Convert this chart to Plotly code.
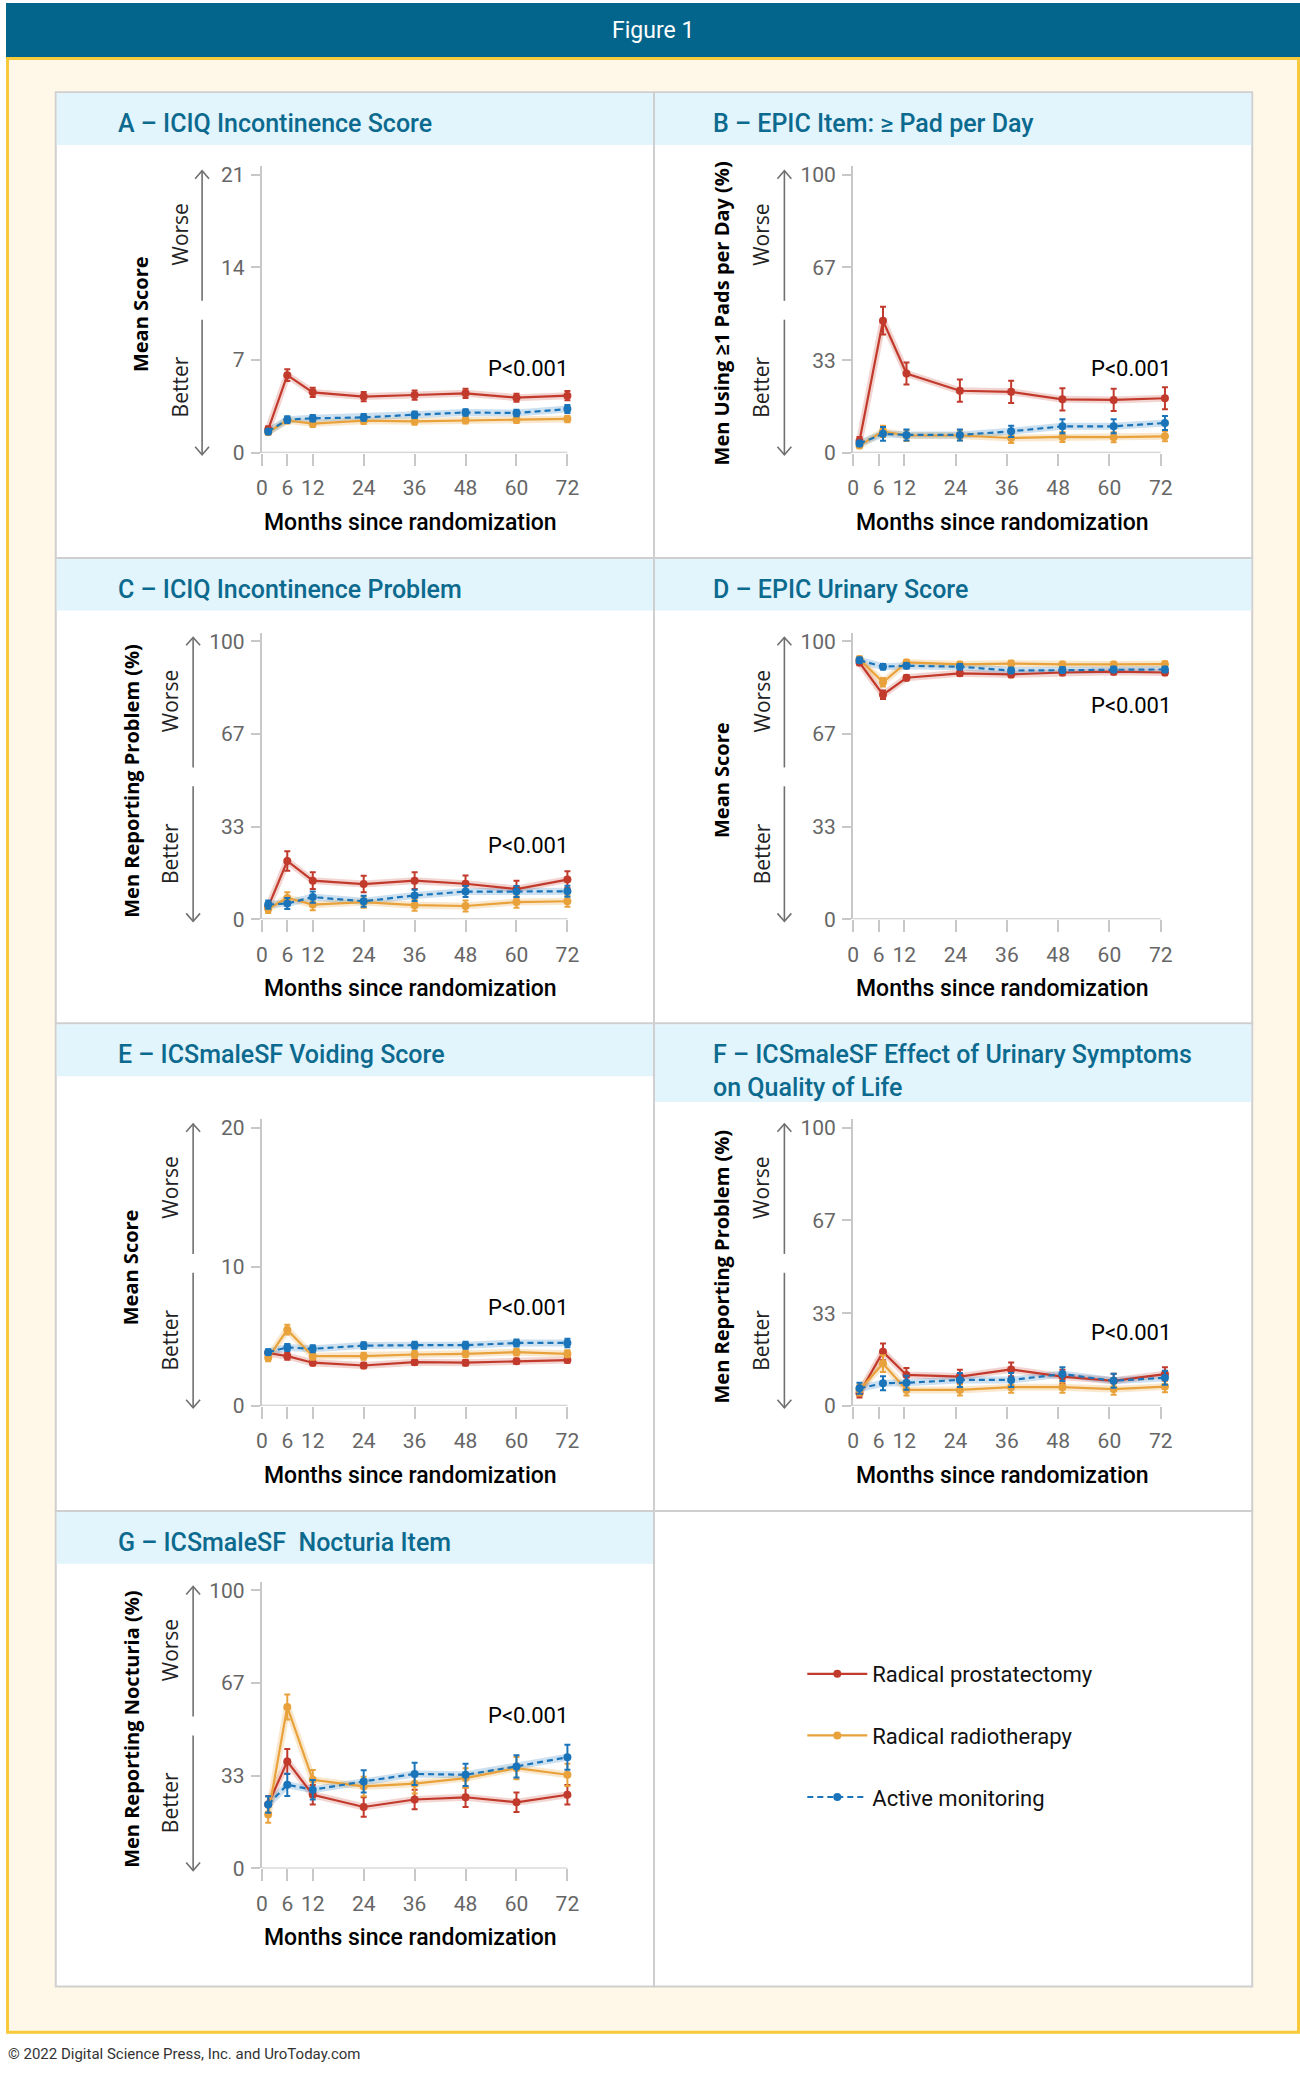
import plotly.graph_objects as go

# canvas size in px (margins are zero, so paper coords map straight to pixels)
W, H = 1300, 2078

# ---- data ----
months_left = [1.5, 6, 12, 24, 36, 48, 60, 72]
months_right = [1.5, 7, 12.5, 25, 37, 49, 61, 73]
month_ticks = [0, 6, 12, 24, 36, 48, 60, 72]

series_names = ["Radical prostatectomy", "Radical radiotherapy", "Active monitoring"]

# A - ICIQ incontinence score
a_rp = [1.75, 5.86, 4.56, 4.24, 4.36, 4.49, 4.16, 4.31]
a_rp_err = [0.25, 0.45, 0.35, 0.35, 0.35, 0.35, 0.3, 0.35]
a_rr = [1.55, 2.45, 2.2, 2.42, 2.37, 2.45, 2.5, 2.55]
a_rr_err = [0.2, 0.25, 0.25, 0.25, 0.25, 0.25, 0.25, 0.25]
a_am = [1.6, 2.5, 2.6, 2.67, 2.87, 3.04, 3.0, 3.3]
a_am_err = [0.2, 0.25, 0.25, 0.25, 0.25, 0.25, 0.25, 0.3]

# B - EPIC item: >= 1 pad per day
b_rp = [4.2, 47.5, 28.5, 22.3, 21.9, 19.2, 19.0, 19.6]
b_rp_err = [1.5, 5, 4, 4, 4, 4, 4, 4]
b_rr = [2.6, 7.7, 6.2, 6.2, 5.3, 5.7, 5.6, 5.9]
b_rr_err = [1, 2, 2, 1.8, 1.8, 1.8, 1.8, 1.8]
b_am = [3.3, 6.8, 6.4, 6.4, 7.7, 9.5, 9.5, 10.7]
b_am_err = [1, 2.5, 2, 2, 2, 2.5, 2.5, 2.5]

# C - ICIQ incontinence problem
c_rp = [4.5, 21, 13.9, 12.7, 13.9, 12.8, 10.9, 14.3]
c_rp_err = [1.5, 3.5, 3, 3, 3, 3, 3, 3]
c_rr = [3.8, 7.7, 5.3, 6.2, 5.1, 4.8, 6.2, 6.5]
c_rr_err = [1.5, 2, 2, 2, 2, 2, 2, 2]
c_am = [5.3, 5.7, 8, 6.5, 8.6, 10, 10, 10.1]
c_am_err = [1.5, 2, 2, 2, 2, 2, 2, 2]

# D - EPIC urinary score
d_rp = [92.4, 80.8, 86.9, 88.5, 88.1, 88.8, 89.1, 88.8]
d_rp_err = [1, 1.5, 1, 1, 1, 1, 1, 1]
d_rr = [93.6, 85.3, 92.4, 91.7, 92, 91.7, 91.7, 91.8]
d_rr_err = [1, 1.5, 1, 1, 1, 1, 1, 1]
d_am = [93.2, 90.9, 91.2, 90.9, 89.5, 89.7, 89.9, 89.9]
d_am_err = [1, 1, 1, 1, 1, 1, 1, 1]

# E - ICSmaleSF voiding score
e_rp = [3.8, 3.57, 3.1, 2.9, 3.14, 3.1, 3.2, 3.29]
e_rp_err = [0.2, 0.25, 0.2, 0.2, 0.2, 0.2, 0.2, 0.2]
e_rr = [3.45, 5.48, 3.57, 3.57, 3.69, 3.74, 3.86, 3.74]
e_rr_err = [0.25, 0.35, 0.25, 0.25, 0.25, 0.25, 0.25, 0.25]
e_am = [3.86, 4.2, 4.1, 4.33, 4.36, 4.36, 4.52, 4.52]
e_am_err = [0.2, 0.25, 0.25, 0.25, 0.25, 0.25, 0.25, 0.3]

# F - ICSmaleSF effect of urinary symptoms on QoL
f_rp = [4.5, 19.4, 11.1, 10.5, 13.1, 10.5, 9, 11.4]
f_rp_err = [1.5, 3, 2.5, 2.5, 2.5, 2.5, 2.5, 2.5]
f_rr = [5.7, 15.2, 5.7, 5.7, 6.7, 6.7, 6, 6.9]
f_rr_err = [2, 3, 2, 2, 2, 2, 2, 2]
f_am = [6.3, 8.1, 8.3, 9.3, 9.3, 11.4, 9, 10.1]
f_am_err = [2, 2.5, 2.5, 2.5, 2.5, 2.5, 2.5, 2.5]

# G - ICSmaleSF nocturia item
g_rp = [23, 38.5, 26.5, 22.1, 24.8, 25.6, 23.8, 26.5]
g_rp_err = [3, 4.5, 3.5, 3.5, 3.5, 3.5, 3.5, 3.5]
g_rr = [19.4, 58.1, 31.9, 29.5, 30.5, 32.5, 36.1, 33.7]
g_rr_err = [3, 4.5, 3.5, 3.5, 3.5, 3.5, 4, 4]
g_am = [23, 30.1, 28.3, 31.3, 34, 33.7, 36.7, 40]
g_am_err = [3, 4, 3.5, 4, 4, 4, 4, 4.5]

pct_ticks = [0, 33.3, 66.7, 100]
pct_labels = ["0", "33", "67", "100"]

# ---- styling ----
RED, ORANGE, BLUE = "#C23A2C", "#E9A23B", "#1A74BA"
HALO = ["rgba(194,58,44,0.22)", "rgba(233,162,59,0.25)", "rgba(26,116,186,0.22)"]
COLORS = [RED, ORANGE, BLUE]
DASHES = ["solid", "solid", "6px,4px"]
AXIS_GREY = "#C8C8C8"
TITLE_BLUE = "#0B6A8E"
COND = "Roboto"
WIDE = "Open Sans"


def fx(px):
    return px / W


def fy(py):
    return 1 - py / H


# panel grid (px)
PX_L, PX_M, PX_R = 50, 651, 1252
ROWS = [90, 559, 1028, 1519, 1998]

panels = [
    dict(title="A – ICIQ Incontinence Score", col=0, row=0, x=months_left,
         ys=[a_rp, a_rr, a_am], errs=[a_rp_err, a_rr_err, a_am_err],
         top=21, tickvals=[0, 7, 14, 21], ticktext=["0", "7", "14", "21"],
         ytitle="Mean Score", p_xy=(72.5, 6.4), arrow_dx=-60, wb_dx=-82, yt_dx=-122, band=53),
    dict(title="B – EPIC Item: ≥ Pad per Day", col=1, row=0, x=months_right,
         ys=[b_rp, b_rr, b_am], errs=[b_rp_err, b_rr_err, b_am_err],
         top=100, tickvals=pct_ticks, ticktext=pct_labels,
         ytitle="Men Using ≥1 Pads per Day (%)", p_xy=(75, 30.4), arrow_dx=-69, wb_dx=-92, yt_dx=-132, band=53),
    dict(title="C – ICIQ Incontinence Problem", col=0, row=1, x=months_left,
         ys=[c_rp, c_rr, c_am], errs=[c_rp_err, c_rr_err, c_am_err],
         top=100, tickvals=pct_ticks, ticktext=pct_labels,
         ytitle="Men Reporting Problem (%)", p_xy=(72.5, 26.4), arrow_dx=-69, wb_dx=-92, yt_dx=-131, band=53),
    dict(title="D – EPIC Urinary Score", col=1, row=1, x=months_right,
         ys=[d_rp, d_rr, d_am], errs=[d_rp_err, d_rr_err, d_am_err],
         top=100, tickvals=pct_ticks, ticktext=pct_labels,
         ytitle="Mean Score", p_xy=(75, 77), arrow_dx=-69, wb_dx=-92, yt_dx=-132, band=53),
    dict(title="E – ICSmaleSF Voiding Score", col=0, row=2, x=months_left,
         ys=[e_rp, e_rr, e_am], errs=[e_rp_err, e_rr_err, e_am_err],
         top=20, tickvals=[0, 10, 20], ticktext=["0", "10", "20"],
         ytitle="Mean Score", p_xy=(72.5, 7.1), arrow_dx=-69, wb_dx=-92, yt_dx=-132, band=53),
    dict(title="F – ICSmaleSF Effect of Urinary Symptoms<br>on Quality of Life", col=1, row=2, x=months_right,
         ys=[f_rp, f_rr, f_am], errs=[f_rp_err, f_rr_err, f_am_err],
         top=100, tickvals=pct_ticks, ticktext=pct_labels,
         ytitle="Men Reporting Problem (%)", p_xy=(75, 26.4), arrow_dx=-69, wb_dx=-92, yt_dx=-132, band=79),
    dict(title="G – ICSmaleSF  Nocturia Item", col=0, row=3, x=months_left,
         ys=[g_rp, g_rr, g_am], errs=[g_rp_err, g_rr_err, g_am_err],
         top=100, tickvals=pct_ticks, ticktext=pct_labels,
         ytitle="Men Reporting Nocturia (%)", p_xy=(72.5, 55), arrow_dx=-69, wb_dx=-92, yt_dx=-131, band=53),
]

# plot geometry (px): x position of month 0, px per month; y position of top tick and 0
COL_X0 = [257, 851]
COL_PPM = [4.264, 4.292]
ROW_TOP = [173, 643, 1133, 1599]
ROW_BOT = [453, 923, 1413, 1879]
XMAX = 76

fig = go.Figure()
shapes = []
annotations = []

# background: header bar, cream frame with yellow border
shapes.append(dict(type="rect", xref="paper", yref="paper", x0=0, x1=1, y0=fy(56), y1=1,
                   fillcolor="#03658B", line_width=0, layer="below"))
shapes.append(dict(type="rect", xref="paper", yref="paper", x0=fx(1.5), x1=fx(1298.5), y0=fy(2044), y1=fy(56),
                   fillcolor="#FFF8E8", line=dict(color="#F8C93A", width=3), layer="below"))
annotations.append(dict(text="Figure 1", x=0.5, y=fy(28), xref="paper", yref="paper", showarrow=False,
                        font=dict(family=COND, size=23, color="white"), xanchor="center", yanchor="middle"))
annotations.append(dict(text="© 2022 Digital Science Press, Inc. and UroToday.com", x=0, y=fy(2066),
                        xref="paper", yref="paper", showarrow=False, xanchor="left", yanchor="middle",
                        font=dict(family=COND, size=15, color="#333333")))

# white panel boxes (incl. the legend box)
for r in range(4):
    for c in range(2):
        x0p, x1p = (PX_L, PX_M) if c == 0 else (PX_M, PX_R)
        shapes.append(dict(type="rect", xref="paper", yref="paper", x0=fx(x0p), x1=fx(x1p),
                           y0=fy(ROWS[r + 1]), y1=fy(ROWS[r]), fillcolor="white",
                           line=dict(color="#CFCFCF", width=2), layer="below"))

layout_axes = {}
for i, p in enumerate(panels):
    n = "" if i == 0 else str(i + 1)
    xa, ya = "x" + n, "y" + n
    c, r = p["col"], p["row"]
    x0, ppm = COL_X0[c], COL_PPM[c]
    top_px, bot_px = ROW_TOP[r], ROW_BOT[r]
    pxl, pxr = (PX_L, PX_M) if c == 0 else (PX_M, PX_R)

    # header band + title
    shapes.append(dict(type="rect", xref="paper", yref="paper", x0=fx(pxl + 1), x1=fx(pxr - 1),
                       y0=fy(ROWS[r] + p["band"]), y1=fy(ROWS[r] + 1), fillcolor="#E2F4FC",
                       line_width=0, layer="below"))
    title_x = pxl + (61 if c == 0 else 57)
    annotations.append(dict(text=p["title"], x=fx(title_x), y=fy(ROWS[r] + 15), xref="paper", yref="paper",
                            showarrow=False, xanchor="left", yanchor="top", align="left",
                            font=dict(family=COND, size=25, color=TITLE_BLUE, weight=500)))

    top_val = p["top"] * 1.03
    layout_axes["xaxis" + n] = dict(
        domain=[fx(x0), fx(x0 + XMAX * ppm)], range=[0, XMAX], anchor=ya,
        tickvals=month_ticks, ticks="outside", ticklen=12, tickwidth=2, tickcolor=AXIS_GREY,
        showline=False, showgrid=False, zeroline=False, ticklabelstandoff=4,
        tickfont=dict(family=COND, size=21, color="#666666"))
    layout_axes["yaxis" + n] = dict(
        domain=[fy(bot_px), fy(top_px - 0.03 * (bot_px - top_px))], range=[0, top_val], anchor=xa,
        tickvals=p["tickvals"], ticktext=p["ticktext"], ticks="outside", ticklen=9, tickwidth=2,
        tickcolor=AXIS_GREY, showline=True, linecolor=AXIS_GREY, linewidth=2,
        showgrid=False, zeroline=False, ticklabelstandoff=2,
        tickfont=dict(family=COND, size=21, color="#666666"))

    # x axis line only up to 72 months
    shapes.append(dict(type="line", xref=xa, yref=ya, x0=0, x1=72, y0=0, y1=0,
                       line=dict(color=AXIS_GREY, width=2)))

    # series: soft halo under each line, then the line with markers and error bars
    for k in range(3):
        fig.add_trace(go.Scatter(x=p["x"], y=p["ys"][k], xaxis=xa, yaxis=ya, mode="lines",
                                 line=dict(color=HALO[k], width=7), showlegend=False, hoverinfo="skip"))
    for k in range(3):
        fig.add_trace(go.Scatter(
            x=p["x"], y=p["ys"][k], xaxis=xa, yaxis=ya, mode="lines+markers",
            name=series_names[k], legendgroup=series_names[k], showlegend=(i == 0),
            line=dict(color=COLORS[k], width=2.2, dash=DASHES[k]),
            marker=dict(color=COLORS[k], size=8),
            error_y=dict(type="data", array=p["errs"][k], color=COLORS[k], thickness=2, width=3),
            cliponaxis=False))

    annotations.append(dict(text="P<0.001", x=p["p_xy"][0], y=p["p_xy"][1], xref=xa, yref=ya,
                            showarrow=False, xanchor="right", yanchor="middle",
                            font=dict(family=COND, size=22, color="black")))
    annotations.append(dict(text="Months since randomization", x=35, y=fy(bot_px + 70), xref=xa,
                            yref="paper", showarrow=False, xanchor="center", yanchor="middle",
                            font=dict(family=COND, size=23, color="black", weight=500)))

    # Worse / Better direction arrows
    ax = x0 + p["arrow_dx"]
    grey = dict(color="#707070", width=1.6)
    shapes.append(dict(type="line", xref="paper", yref="paper", x0=fx(ax), x1=fx(ax),
                       y0=fy(top_px - 4), y1=fy(top_px + 127), line=grey))
    shapes.append(dict(type="line", xref="paper", yref="paper", x0=fx(ax), x1=fx(ax),
                       y0=fy(top_px + 146), y1=fy(bot_px + 2), line=grey))
    shapes.append(dict(type="path", xref="paper", yref="paper", line=grey,
                       path=f"M {fx(ax - 7)},{fy(top_px + 4)} L {fx(ax)},{fy(top_px - 4)} L {fx(ax + 7)},{fy(top_px + 4)}"))
    shapes.append(dict(type="path", xref="paper", yref="paper", line=grey,
                       path=f"M {fx(ax - 7)},{fy(bot_px - 6)} L {fx(ax)},{fy(bot_px + 2)} L {fx(ax + 7)},{fy(bot_px - 6)}"))
    wb_x = x0 + p["wb_dx"]
    for txt, off in (("Worse", 60), ("Better", 214)):
        annotations.append(dict(text=txt, x=fx(wb_x), y=fy(top_px + off), xref="paper", yref="paper",
                                showarrow=False, textangle=-90, xanchor="center", yanchor="middle",
                                font=dict(family=WIDE, size=21, color="#222222")))
    annotations.append(dict(text="<b>" + p["ytitle"] + "</b>", x=fx(x0 + p["yt_dx"]), y=fy(top_px + 140),
                            xref="paper", yref="paper", showarrow=False, textangle=-90,
                            xanchor="center", yanchor="middle",
                            font=dict(family=WIDE, size=20, color="black")))

fig.update_layout(
    width=W, height=H, margin=dict(l=0, r=0, t=0, b=0),
    paper_bgcolor="white", plot_bgcolor="rgba(0,0,0,0)",
    shapes=shapes, annotations=annotations,
    legend=dict(x=fx(800), y=fy(1662), xanchor="left", yanchor="top", bgcolor="rgba(0,0,0,0)",
                font=dict(family=COND, size=22, color="#111111"), tracegroupgap=30, itemwidth=60),
    **layout_axes,
)

# pin the canvas to the page's top-left corner (no default body margin, no scrollbars)
page_fix = ("document.body.style.margin='0px';document.body.style.padding='0px';"
            "document.body.style.overflow='hidden';document.documentElement.style.overflow='hidden';"
            "var gd=document.getElementsByClassName('plotly-graph-div')[0];"
            "gd.style.position='absolute';gd.style.left='0px';gd.style.top='0px';")
fig.write_html("out.html", post_script=page_fix, config={"displayModeBar": False})
